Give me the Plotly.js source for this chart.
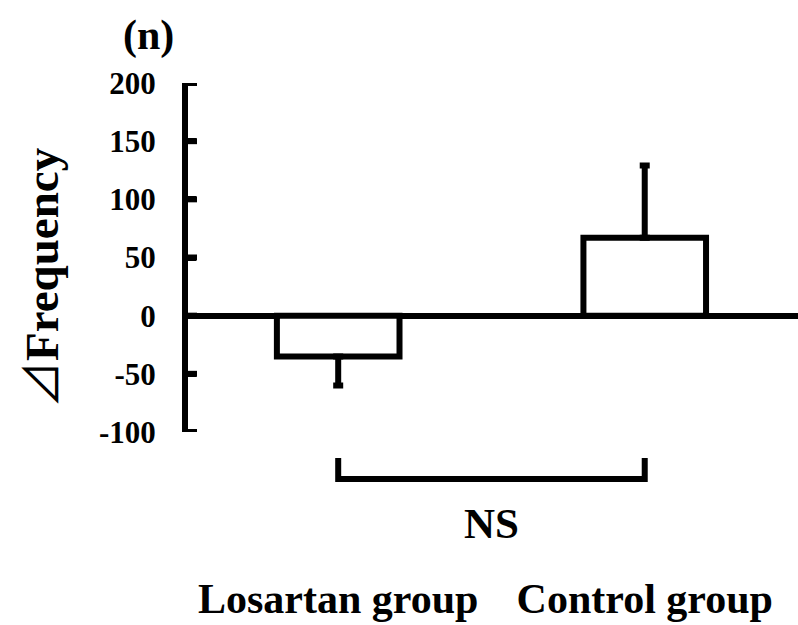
<!DOCTYPE html>
<html>
<head>
<meta charset="utf-8">
<script src="https://cdn.plot.ly/plotly-3.0.1.min.js"></script>
<style>html,body{margin:0;padding:0;background:#fff;}#chart{width:798px;height:625px;}</style>
</head>
<body>
<div id="chart"></div>
<script>
// Data
const categories = ["Losartan group", "Control group"];
const meanValues = [-35, 67];
const errorPlus = [0, 62];
const errorMinus = [25, 0];
const yRange = [-100, 200];
const yTickVals = [-100, -50, 0, 50, 100, 150, 200];
const yTickText = ["-100", "-50", "0", "50", "100", "150", "200"];
const yTitle = '<span style="font-family:\'Noto Sans CJK JP\';font-weight:normal">⊿</span>Frequency';
const panelLabel = "(n)";
const sigLabel = "NS";

const serif = '"Liberation Serif", "Times New Roman", serif';

const trace = {
  type: 'bar',
  x: categories,
  y: meanValues,
  width: 0.4,
  marker: {color: '#ffffff', line: {color: '#000000', width: 6}},
  error_y: {
    type: 'data', symmetric: false,
    array: errorPlus, arrayminus: errorMinus,
    color: '#000000', thickness: 6, width: 5
  },
  hoverinfo: 'none'
};

// tick marks on the inner side of the y axis, one per tick value
const tickShapes = yTickVals.map(v => ({
  type: 'line', xref: 'paper', yref: 'y',
  x0: 0, x1: 9 / 610, y0: v, y1: v,
  line: {color: '#000', width: 6}
}));

const layout = {
  width: 798, height: 625,
  margin: {l: 188, r: 0, t: 83, b: 193},
  paper_bgcolor: '#ffffff', plot_bgcolor: '#ffffff',
  showlegend: false,
  xaxis: {
    type: 'category',
    range: [-0.49, 1.5],
    showline: false, showgrid: false, zeroline: false,
    ticks: '',
    ticklabelstandoff: 138,
    tickfont: {family: serif, size: 42, color: '#000', weight: 'bold'}
  },
  yaxis: {
    range: yRange,
    tickvals: yTickVals, ticktext: yTickText,
    showline: true, linecolor: '#000', linewidth: 6,
    ticks: 'inside', ticklen: 8, tickwidth: 6, tickcolor: '#000',
    showgrid: false,
    zeroline: true, zerolinecolor: '#000', zerolinewidth: 6,
    ticklabelstandoff: 20,
    tickfont: {family: serif, size: 31, color: '#000', weight: 'bold'}
  },
  shapes: tickShapes.concat([{
    type: 'path', xref: 'x', yref: 'paper',
    path: 'M 0,-0.0745 L 0,-0.1347 L 1,-0.1347 L 1,-0.0745',
    line: {color: '#000', width: 6}
  }]),
  annotations: [
    {text: yTitle, xref: 'paper', yref: 'paper', x: (37 - 188) / 610, y: (432 - 278) / 349,
     textangle: -90, showarrow: false, xanchor: 'center', yanchor: 'middle',
     font: {family: serif, size: 47, color: '#000', weight: 'bold'}},
    {text: sigLabel, xref: 'x', yref: 'paper', x: 0.5, y: -0.261, showarrow: false,
     xanchor: 'center', yanchor: 'middle',
     font: {family: serif, size: 43, color: '#000', weight: 'bold'}},
    {text: panelLabel, xref: 'paper', yref: 'paper', x: (148 - 188) / 610, y: (432 - 35) / 349,
     showarrow: false, xanchor: 'center', yanchor: 'middle',
     font: {family: serif, size: 42, color: '#000', weight: 'bold'}}
  ]
};

Plotly.newPlot('chart', [trace], layout, {staticPlot: true, displayModeBar: false});
</script>
</body>
</html>
